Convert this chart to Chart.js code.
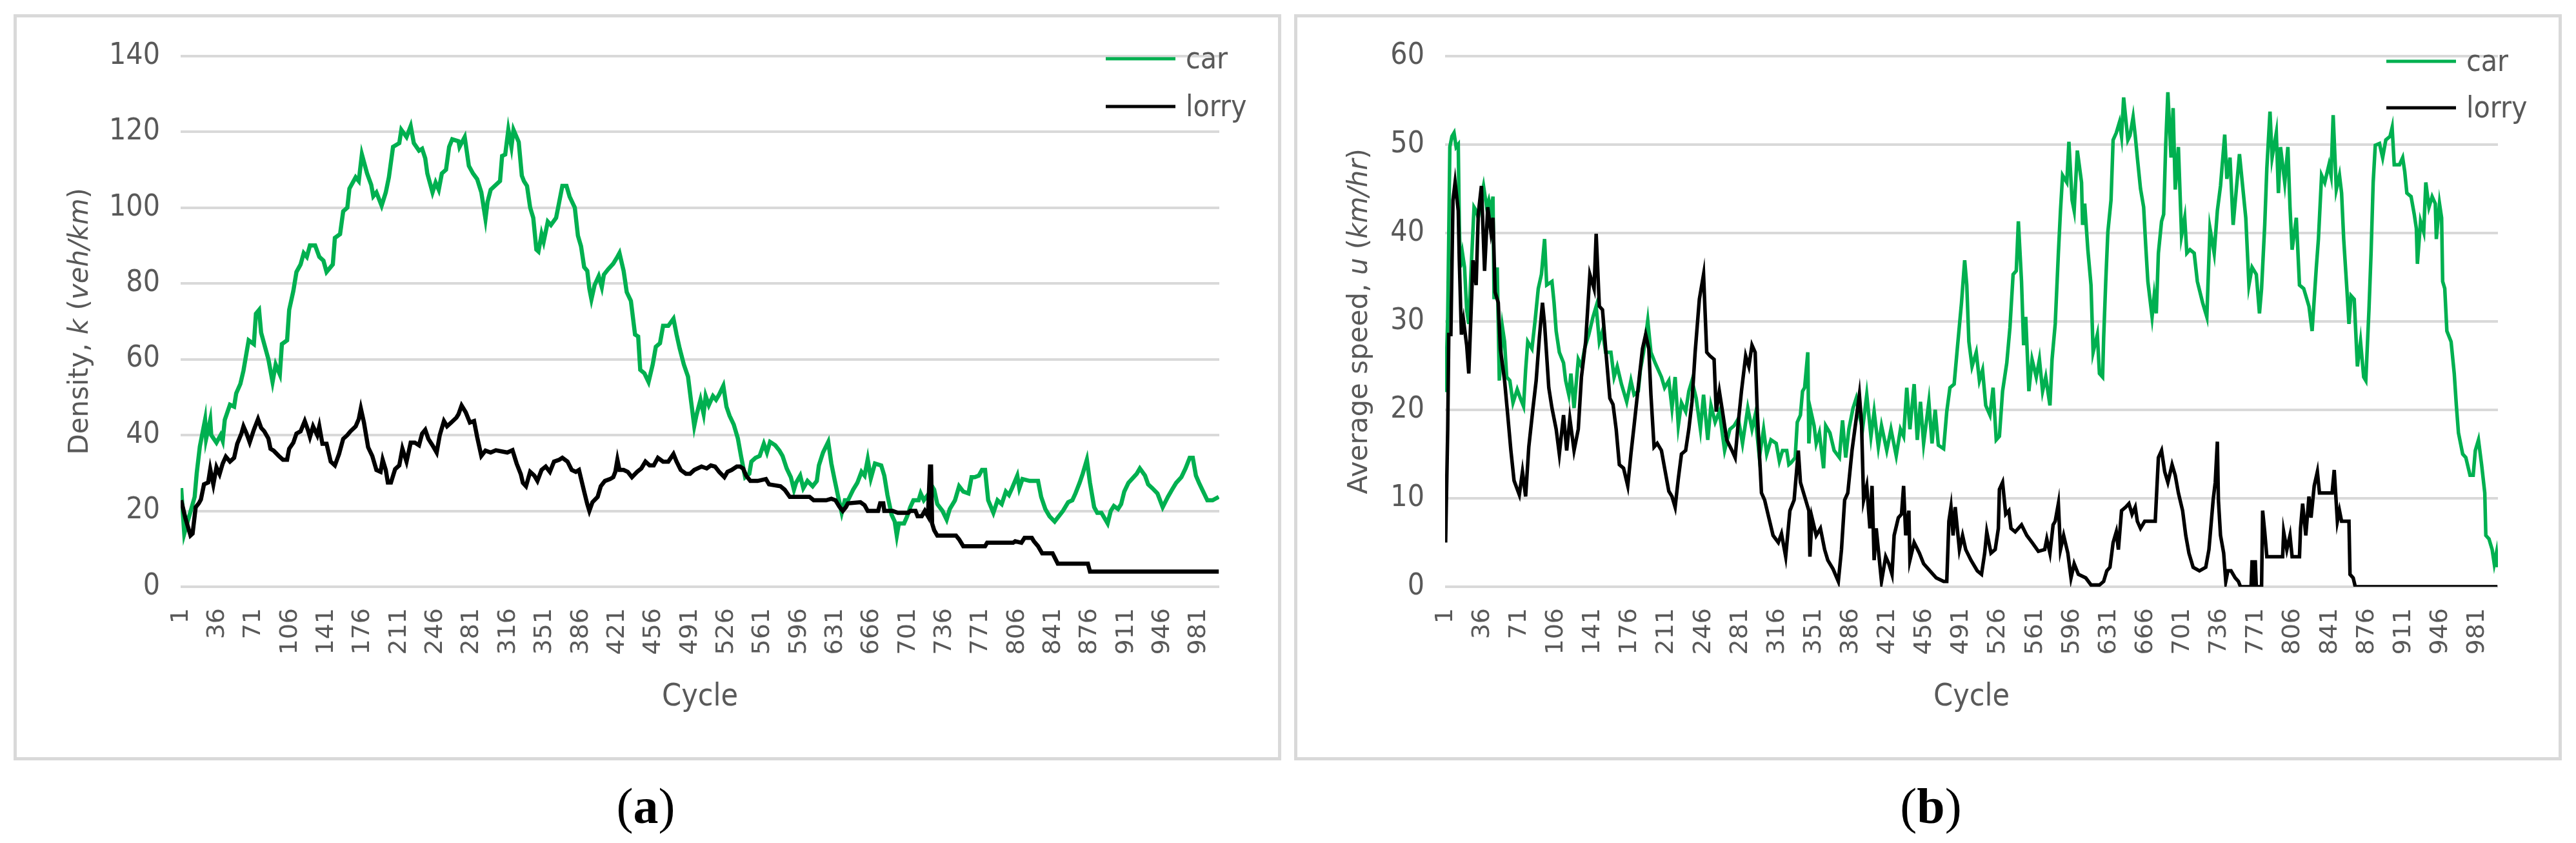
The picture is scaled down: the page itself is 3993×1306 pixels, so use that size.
<!DOCTYPE html>
<html>
<head>
<meta charset="utf-8">
<script src="https://cdn.jsdelivr.net/npm/chart.js@4.4.1/dist/chart.umd.min.js"></script>
<style>
  body { margin: 0; width: 3993px; height: 1306px; background: #fff; position: relative; overflow: hidden; }
  .panel { position: absolute; top: 22px; width: 1955px; height: 1146px; border: 5px solid #d9d9d9; background: #fff; }
  .panel canvas { display: block; }
  .cap { position: absolute; top: 1210px; width: 400px; text-align: center; font-family: 'Liberation Serif', serif; font-size: 78px; line-height: 78px; color: #000; }
</style>
</head>
<body>
<div class="panel" style="left:21px"><canvas id="densityChart" width="1955" height="1146" style="width:1955px;height:1146px"></canvas></div>
<div class="panel" style="left:2006px"><canvas id="speedChart" width="1955" height="1146" style="width:1955px;height:1146px"></canvas></div>
<div class="cap" style="left:801px">(<b>a</b>)</div>
<div class="cap" style="left:2793px">(<b>b</b>)</div>

<script>
// x axis labels (every 35th cycle, as in the spreadsheet)
const xTickLabels = [1, 36, 71, 106, 141, 176, 211, 246, 281, 316, 351, 386, 421, 456, 491, 526, 561, 596, 631, 666, 701, 736, 771, 806, 841, 876, 911, 946, 981];
const seriesNames = ['car', 'lorry'];

// (a) density, [cycle, veh/km]
const densityCar = [
  [1,26],[4,14],[14,23.7],[16,30],[19,37],[24,44],[25,39],[29,44],[30,40],[35,38],[39,40],[41,38.5],[43,44],[48,48],[52,47.5],[54,51],[58,53.5],[61,57],[66,65],[71,64],[73,72],[76,73],[78,67],[81,64],[85,60],[89,54],[92,58.6],[96,56],[98,64],[103,65],[105,73],[109,78],[112,83],[116,85],[119,88],[122,87],[125,90],[130,90],[134,87],[138,86],[141,83],[147,85],[149,92],[154,93],[157,99],[161,100],[163,105],[169,108],[172,107],[175,114],[180,109],[184,106],[186,103],[189,104],[194,100.5],[198,104],[201,108],[205,116],[211,117],[213,120.5],[218,118.6],[222,121.5],[225,117],[230,115],[233,115.5],[236,113],[238,109],[243,104],[246,106.6],[249,104.7],[252,109],[256,110],[259,116],[262,118],[268,117.5],[269,116],[274,118.6],[278,111],[282,109],[286,107.5],[290,104],[294,97],[296,101.5],[299,104.7],[304,106],[308,107],[310,113.6],[313,114],[316,120.5],[319,116],[321,120.5],[326,117.3],[329,108.4],[331,107],[334,105.7],[337,100],[340,97.3],[343,88.9],[345,88.4],[348,93],[350,91],[354,96.3],[357,95.4],[362,97.3],[365,101.5],[368,105.7],[372,105.7],[375,102.9],[380,100],[383,92.6],[386,89.8],[389,84.3],[392,83.3],[394,78.6],[396,75.8],[399,79.5],[403,81.9],[406,79],[408,82.3],[412,83.7],[417,85.2],[421,87],[423,88],[427,83.3],[430,77.7],[434,75.4],[438,66.5],[441,66],[443,57.2],[447,56.3],[451,54],[455,58.6],[458,63.3],[462,64.2],[465,68.8],[470,68.8],[475,70.7],[478,66.5],[481,62.8],[485,58.6],[489,55.4],[492,48.8],[495,42.4],[497,45.1],[501,49.3],[504,45.6],[506,50.3],[509,47.9],[513,50.3],[516,49.3],[519,50.7],[523,53],[526,47.5],[529,45.1],[533,42.8],[537,39.1],[540,34.5],[544,28.9],[548,29.8],[550,33],[554,34],[558,34.5],[562,37.7],[565,35.4],[568,38.2],[573,37.3],[577,35.9],[580,34.5],[584,31.2],[588,28.9],[591,25.6],[593,27.4],[597,29.3],[600,26],[604,27.9],[609,26.5],[613,27.9],[615,32],[619,35.4],[624,38.2],[627,32.5],[630,28.4],[634,23.2],[637,19.5],[640,22.8],[643,22.8],[648,25.6],[652,27.4],[656,30.3],[659,29.3],[662,33.6],[665,28.6],[669,32.5],[675,32],[678,29.3],[681,24.2],[685,19],[688,17.2],[690,13.5],[692,16.7],[697,16.7],[700,18.6],[703,21],[706,22.8],[711,22.8],[713,24.6],[716,22.8],[721,24.6],[723,27],[726,25.6],[729,21.8],[734,20],[738,17.7],[741,20.5],[746,22.8],[750,26.5],[754,25.1],[759,24.6],[762,28.9],[765,28.9],[769,29.3],[772,30.8],[775,30.8],[778,22.8],[783,19.5],[787,22.8],[791,21.8],[795,25.1],[798,24.2],[801,26],[806,29.3],[808,26],[811,28.4],[818,27.9],[826,27.9],[829,23.7],[833,20.5],[837,18.6],[842,17.2],[846,18.6],[850,20],[855,22.3],[859,22.8],[862,24.6],[866,27.4],[869,29.8],[873,33.5],[876,27.4],[880,21],[883,19.5],[887,19.5],[893,16.7],[896,20],[899,21.3],[903,20.5],[906,21.8],[909,25.1],[913,27.4],[918,28.9],[921,29.8],[924,31.2],[929,29.3],[932,27],[936,26],[941,24.6],[946,21],[951,23.7],[955,25.6],[959,27.4],[964,28.9],[968,31.2],[972,34],[975,34],[978,29.3],[981,27.4],[985,25.1],[989,22.8],[994,22.8],[1000,23.7]
];
const densityLorry = [
  [1,22.8],[5,18.2],[10,13.5],[12,14],[15,21],[18,22],[20,23],[23,27],[27,27.5],[29,31],[32,27],[35,31.5],[38,29.7],[41,32.5],[44,34.3],[48,33],[52,34],[55,37.7],[59,40.4],[61,42.3],[64,40.4],[67,38.1],[71,41.4],[75,44.2],[78,41.9],[81,41],[85,39.1],[87,36.4],[90,35.9],[95,34.5],[99,33.5],[103,33.5],[105,36.4],[109,38],[112,40.4],[116,41],[120,43.7],[123,41.4],[125,39.5],[128,42.3],[132,40],[134,42.3],[137,37.7],[141,37.7],[145,33],[149,32],[153,35],[157,39],[161,40],[164,41],[169,42.3],[172,44.2],[174,47],[177,43.3],[181,36.8],[185,34.5],[189,30.8],[193,30.3],[195,33.5],[198,30.8],[200,27.5],[203,27.5],[207,31],[211,32],[214,36.4],[218,33],[222,38],[226,38],[230,37.3],[233,40.4],[236,41.4],[239,39],[243,37.3],[247,35.4],[250,40],[254,43.7],[257,42.3],[261,43.3],[266,44.6],[268,45.5],[271,47.8],[275,46],[279,43.3],[283,43.7],[286,39.5],[290,34.5],[294,35.9],[299,35.4],[304,36],[315,35.4],[320,36],[324,32.5],[328,29.7],[330,27.4],[333,26.5],[337,30.3],[341,29.3],[344,27.9],[348,30.8],[352,31.7],[356,30.3],[360,33],[365,33.5],[368,34],[373,33],[377,30.8],[381,30.3],[384,30.8],[389,25.1],[392,21.8],[394,20],[397,22.3],[402,23.7],[405,26.5],[409,27.9],[414,28.4],[417,28.9],[419,30.3],[421,33.5],[423,30.8],[427,30.8],[431,30.3],[435,28.9],[440,30.3],[444,31.2],[448,33],[452,32],[456,32],[460,34],[465,33],[470,33],[475,35],[478,33],[482,30.8],[487,29.8],[491,29.8],[495,30.8],[502,31.7],[507,31.2],[511,32],[515,31.7],[519,30.3],[524,28.9],[527,30.3],[531,30.8],[536,31.7],[539,31.7],[542,31.2],[545,29.3],[549,27.9],[556,27.9],[564,28.4],[567,27],[578,26.5],[582,25.6],[587,23.7],[606,23.7],[610,22.8],[622,22.8],[627,23.2],[631,22.8],[635,21],[638,20],[641,21],[643,22],[655,22.3],[659,21.5],[662,20],[672,20],[674,22],[677,22],[678,20],[686,20],[691,19.5],[701,19.5],[703,20],[708,20],[710,18.6],[714,18.6],[717,20],[720,18.6],[722,31.7],[723,31.7],[724,16.7],[726,14.9],[729,13.5],[747,13.5],[750,12.5],[754,10.7],[775,10.7],[777,11.6],[802,11.6],[804,12],[810,11.6],[813,12.9],[820,12.9],[822,12],[826,10.7],[830,8.8],[840,8.8],[845,6.1],[874,6.1],[876,4],[1000,4]
];

// (b) average speed, [cycle, km/hr]
const speedCar = [
  [1,22],[3,30.5],[4,39.7],[5,49.7],[7,50.9],[9,51.3],[11,49.7],[13,50],[14,40.9],[15,36.1],[17,37.7],[19,36.1],[21,31.3],[23,29.7],[25,35.3],[28,42.9],[30,42.5],[32,41.7],[35,44.1],[37,45.3],[40,42.9],[42,43.7],[44,42.5],[46,44.1],[47,32.5],[50,36.1],[52,23.3],[55,29.3],[57,27.7],[59,23.7],[62,23.3],[65,20.8],[69,22.3],[72,21.3],[75,20.4],[77,24.5],[79,27.7],[83,26.9],[86,30.1],[89,33.7],[92,35.3],[95,39.3],[97,34.1],[102,34.5],[104,32.1],[106,28.9],[109,26.5],[113,25.3],[115,23.3],[118,21.7],[120,24.1],[123,20.2],[127,25.7],[130,24.9],[133,26.9],[137,28.5],[141,30.5],[144,31.7],[147,27.7],[150,28.9],[153,26.5],[158,26.5],[161,23.7],[164,24.9],[168,22.9],[173,20.9],[177,23.3],[180,21.7],[184,22.1],[186,24.5],[189,26.5],[193,30.1],[196,26.5],[200,25.3],[203,24.5],[206,23.7],[209,22.5],[213,23.3],[216,20.2],[219,23.7],[222,18.2],[225,20.8],[229,19.8],[232,22.1],[235,23.3],[239,21.3],[243,17.8],[246,21.7],[250,16.6],[253,20.5],[257,18.6],[261,19.8],[266,15.4],[271,17.8],[275,18.2],[279,19],[283,16.2],[288,20.2],[292,17.8],[295,19.4],[299,14.6],[303,17.8],[306,15],[310,16.6],[315,16.2],[318,14.2],[321,15.4],[325,15.4],[327,13.8],[329,14],[333,14.6],[335,18.6],[338,19.4],[340,22.1],[342,22.5],[345,26.5],[346,16.2],[348,19.8],[351,18.2],[353,16.2],[356,17.4],[360,13.4],[362,18.2],[366,17.4],[370,15.4],[375,14.6],[378,18.8],[381,14.6],[384,17.8],[388,20.2],[391,21.3],[394,19.4],[397,17.8],[401,21.7],[405,17],[408,19.8],[412,15.8],[415,18.2],[420,15.4],[424,17.8],[429,14.8],[433,17.8],[436,17],[439,22.5],[442,17.8],[446,22.9],[449,16.6],[452,20.9],[455,16.2],[460,20.9],[463,16.2],[466,20],[469,16],[474,15.6],[477,19.8],[480,22.5],[484,22.9],[487,26.9],[491,32.1],[494,36.9],[496,34.1],[498,27.7],[501,24.9],[505,26.5],[508,23.3],[511,24.5],[514,20.5],[518,19.4],[521,22.5],[524,16.6],[527,17],[530,22.1],[534,25.3],[537,29.3],[540,35.3],[543,35.7],[545,41.3],[548,34.5],[550,27.3],[552,30.5],[555,22.1],[558,25.7],[562,23.7],[565,25.7],[568,22.1],[571,23.7],[575,20.5],[577,25.7],[580,29.7],[583,37.7],[585,42.5],[587,46.5],[591,45.7],[593,50.3],[596,43.7],[598,42.5],[601,49.3],[605,45.7],[606,40.9],[608,43.3],[611,38.1],[614,34.1],[616,26.5],[620,28.5],[622,24.1],[625,23.7],[626,28.1],[628,34.5],[630,40.1],[633,43.7],[635,50.5],[638,51.3],[641,52.5],[643,50.9],[645,55.3],[649,50.5],[651,51],[654,53.1],[656,51],[658,48.5],[661,45],[664,42.9],[666,38.5],[668,34.5],[672,30.5],[674,32.9],[676,30.9],[678,37.7],[681,41.3],[683,42.1],[685,50.1],[687,55.9],[690,48.5],[692,54.1],[694,44.9],[697,49.7],[700,39.7],[703,41.7],[705,37.7],[708,38.1],[712,37.7],[715,34.5],[720,32.1],[724,30.5],[727,40.5],[731,37.7],[734,42.5],[737,45.3],[741,51.1],[743,46.1],[746,48.5],[749,40.9],[752,44.9],[755,48.9],[757,46.5],[761,41.7],[764,34.1],[767,36.1],[771,35.3],[774,30.9],[776,33.7],[779,40.9],[781,47.3],[784,53.7],[786,48.5],[790,51.3],[792,44.5],[794,49.7],[798,45.7],[801,49.7],[803,42.9],[805,38.1],[809,41.7],[812,34.1],[816,33.7],[821,31.7],[824,28.9],[828,36.1],[830,39.3],[833,46.5],[836,45.7],[840,47.7],[842,46.5],[844,53.3],[847,44.9],[850,46.5],[852,44.5],[854,39.3],[857,33.7],[859,29.7],[861,32.9],[864,32.5],[867,24.9],[870,27.7],[873,23.7],[875,23.3],[878,31.3],[880,37.7],[882,45.7],[884,49.9],[888,50.1],[891,48.5],[894,50.5],[898,50.9],[900,51.9],[902,47.7],[907,47.7],[910,48.5],[912,46.9],[914,44.5],[918,44.1],[921,42.1],[923,40.5],[924,36.5],[927,41.3],[930,40.1],[932,45.7],[935,42.9],[938,44.1],[941,43.3],[942,39.3],[945,43.3],[947,41.7],[948,34.5],[950,33.7],[952,28.9],[956,27.7],[959,24.1],[961,20.5],[963,17.4],[967,15],[970,14.6],[974,12.6],[977,12.6],[979,15.4],[982,16.6],[985,13.8],[988,10.6],[989,5.8],[992,5.4],[995,4.2],[997,2.6],[999,3.8],[1000,2.2]
];
const speedLorry = [
  [1,5],[3,17.8],[4,28.5],[6,28.5],[8,43.7],[10,45.7],[13,42.5],[14,36.9],[16,28.5],[18,30.1],[21,27.3],[23,24.1],[27,36.9],[30,34.1],[32,42.1],[35,45.3],[38,35.7],[41,42.9],[44,40.1],[46,41.7],[48,33.3],[51,32.1],[53,26.9],[57,23.3],[60,19.4],[63,15.4],[66,12],[71,10.4],[74,13],[77,10.2],[80,15.8],[84,20.2],[87,23.3],[90,28.1],[93,32.1],[95,29.7],[99,22.5],[102,20.2],[106,17.8],[109,15],[113,19.4],[116,15.4],[119,19],[123,15.4],[127,17.8],[130,23.7],[134,27.7],[138,35.3],[142,33.7],[144,39.9],[147,31.7],[150,31.3],[153,26.9],[157,21.3],[160,20.6],[163,17.8],[166,13.8],[170,13.4],[174,11.4],[177,15],[180,18.2],[185,23.7],[188,26.9],[191,28.5],[194,26.9],[196,21.7],[199,15.8],[202,16.2],[206,15.4],[209,13.4],[213,10.8],[216,10.2],[219,9],[222,12.2],[225,15],[229,15.4],[232,17.8],[235,20.9],[238,26.5],[242,32.5],[246,35.3],[249,26.5],[252,26.1],[256,25.7],[258,19.8],[261,22.1],[264,19.8],[268,16.6],[273,15.4],[276,14.6],[279,18.6],[282,22.1],[286,26.1],[289,24.9],[292,27.3],[295,26.5],[297,19.8],[301,10.6],[304,9.8],[308,7.8],[312,5.8],[317,5],[320,6],[324,3.4],[328,8.6],[332,9.8],[336,15.4],[338,11.8],[342,10.2],[346,8.6],[347,3.4],[349,7.8],[353,5.8],[357,6.6],[361,4.2],[364,3],[369,2],[374,0.6],[377,4.2],[380,9.8],[383,10.6],[387,15.4],[391,19],[394,21.7],[396,18.6],[398,9.8],[401,11.4],[404,6.6],[406,11.4],[408,3],[410,6.6],[413,3],[415,0.6],[419,3.4],[422,2.6],[425,1.4],[427,5.8],[431,7.8],[434,8.2],[436,11.4],[438,5.8],[441,8.6],[442,3],[446,5],[451,3.8],[455,2.6],[461,1.8],[467,1],[474,0.6],[477,0.6],[479,7.4],[481,9],[483,5.8],[485,9],[489,4.2],[492,5.8],[495,4.2],[500,3],[506,1.8],[510,1.4],[513,3.8],[515,6.2],[519,3.8],[523,4.2],[526,6.6],[527,11],[530,11.8],[533,8.2],[536,8.6],[538,6.6],[542,6.2],[548,7],[553,5.8],[558,5],[564,4],[570,4.2],[572,5.4],[575,3.8],[578,7],[580,7.4],[583,9.4],[585,4.2],[588,5.8],[592,3.8],[595,1],[598,2.6],[602,1.4],[609,1],[614,0.2],[622,0.2],[626,0.6],[629,1.8],[632,2.2],[635,5],[638,6.2],[640,4.2],[643,8.6],[647,9],[650,9.4],[653,8.2],[656,9],[658,7.4],[661,6.6],[665,7.4],[675,7.4],[678,14.6],[681,15.4],[684,13],[687,11.8],[691,13.8],[694,12.6],[697,10.6],[701,8.6],[704,5.8],[707,3.8],[711,2.2],[717,1.8],[723,2.2],[726,4.2],[730,9.8],[732,11.8],[734,16.4],[735,9.8],[737,5.8],[740,3.8],[742,0.6],[744,1.8],[747,1.8],[751,1],[754,0.6],[756,0],[766,0],[767,3],[769,0],[770,3],[771,0],[776,0],[777,8.6],[779,6.2],[781,3.4],[796,3.4],[797,6.2],[800,4.2],[803,5.8],[805,3.4],[812,3.4],[813,6.6],[815,9.4],[818,5.8],[821,10.2],[823,7.8],[826,11.4],[829,13],[831,10.6],[843,10.6],[845,13.2],[848,7.4],[850,8.6],[852,7.4],[859,7.4],[860,1.4],[863,1],[865,0],[1000,0]
];

const textGray = '#595959';
const narrowFont = "'Liberation Sans Narrow', 'DejaVu Sans Condensed', sans-serif";
const titleFont = '42px "DejaVu Sans"';
const titleItalic = 'italic 42px "DejaVu Sans"';

// titles and legend spots for each panel, kept outside the chart options
const panelTitles = {
    densityChart: { x: 99, parts: [['Density, ', false], ['k', true], [' (', false], ['veh/km', true], [')', false]] },
    speedChart: { x: 97, parts: [['Average speed, ', false], ['u', true], [' (', false], ['km/hr', true], [')', false]] }
};
const legendSpots = {
    densityChart: { top: 64, gap: 74 },
    speedChart: { top: 68, gap: 72 }
};

// rotated y title with italic parts
const richYTitle = {
    id: 'richYTitle',
    afterDraw(chart) {
        const t = panelTitles[chart.canvas.id];
        const ctx = chart.ctx;
        const area = chart.chartArea;
        ctx.save();
        ctx.translate(t.x, (area.top + area.bottom) / 2);
        ctx.rotate(-Math.PI / 2);
        ctx.fillStyle = textGray;
        ctx.textBaseline = 'middle';
        ctx.textAlign = 'left';
        let total = 0;
        t.parts.forEach(p => { ctx.font = p[1] ? titleItalic : titleFont; total += ctx.measureText(p[0]).width; });
        let cx = -total / 2;
        t.parts.forEach(p => {
            ctx.font = p[1] ? titleItalic : titleFont;
            ctx.fillText(p[0], cx, 0);
            cx += ctx.measureText(p[0]).width;
        });
        ctx.restore();
    }
};

// legend stacked in the top right corner, like the Excel one
const sideLegend = {
    id: 'sideLegend',
    afterDraw(chart) {
        const spot = legendSpots[chart.canvas.id];
        const ctx = chart.ctx;
        ctx.save();
        chart.data.datasets.forEach((ds, i) => {
            const y = spot.top + i * spot.gap;
            ctx.strokeStyle = ds.borderColor;
            ctx.lineWidth = 5;
            ctx.beginPath();
            ctx.moveTo(1688, y);
            ctx.lineTo(1796, y);
            ctx.stroke();
            ctx.fillStyle = textGray;
            ctx.font = '46px ' + narrowFont;
            ctx.textBaseline = 'middle';
            ctx.textAlign = 'left';
            ctx.fillText(ds.label, 1812, y + 3);
        });
        ctx.restore();
    }
};

function toPoints(rows) {
    return rows.map(r => ({ x: r[0], y: r[1] }));
}

function makeChart(id, car, lorry, yMax, yStep, chartLeft, padRight, lineWidth) {
    const ctx = document.getElementById(id).getContext('2d');
    return new Chart(ctx, {
        type: 'line',
        data: {
            datasets: [
                { label: seriesNames[0], data: toPoints(car), borderColor: '#00b050', borderWidth: lineWidth, pointRadius: 0, tension: 0, order: 1 },
                { label: seriesNames[1], data: toPoints(lorry), borderColor: '#000000', borderWidth: lineWidth, pointRadius: 0, tension: 0, order: 0 }
            ]
        },
        options: {
            responsive: false,
            animation: false,
            devicePixelRatio: 1,
            layout: { padding: { left: 0, top: 56, right: padRight, bottom: 0 } },
            plugins: {
                legend: { display: false },
                tooltip: { enabled: false }
            },
            scales: {
                x: {
                    type: 'linear',
                    min: 0.5,
                    max: 1000.5,
                    afterBuildTicks: scale => { scale.ticks = xTickLabels.map(v => ({ value: v })); },
                    afterFit: scale => { scale.height = 264; },
                    grid: { display: false, drawTicks: false },
                    border: { display: false },
                    ticks: {
                        autoSkip: false,
                        minRotation: 90,
                        maxRotation: 90,
                        padding: 33,
                        color: textGray,
                        font: { family: '"DejaVu Sans"', size: 38 },
                        callback: v => String(v)
                    },
                    title: {
                        display: true,
                        text: 'Cycle',
                        color: textGray,
                        font: { family: narrowFont, size: 48 },
                        padding: { top: 0, bottom: 64 }
                    }
                },
                y: {
                    min: 0,
                    max: yMax,
                    afterFit: scale => { scale.width = chartLeft; },
                    grid: { color: '#d9d9d9', lineWidth: 4, drawTicks: false },
                    border: { display: false },
                    ticks: {
                        stepSize: yStep,
                        padding: 32,
                        color: textGray,
                        font: { family: narrowFont, size: 46 }
                    }
                }
            }
        },
        plugins: [richYTitle, sideLegend]
    });
}

makeChart('densityChart', densityCar, densityLorry, 140, 20, 254, 91, 6.5);
makeChart('speedChart', speedCar, speedLorry, 60, 10, 229, 94, 5.5);
</script>
</body>
</html>
